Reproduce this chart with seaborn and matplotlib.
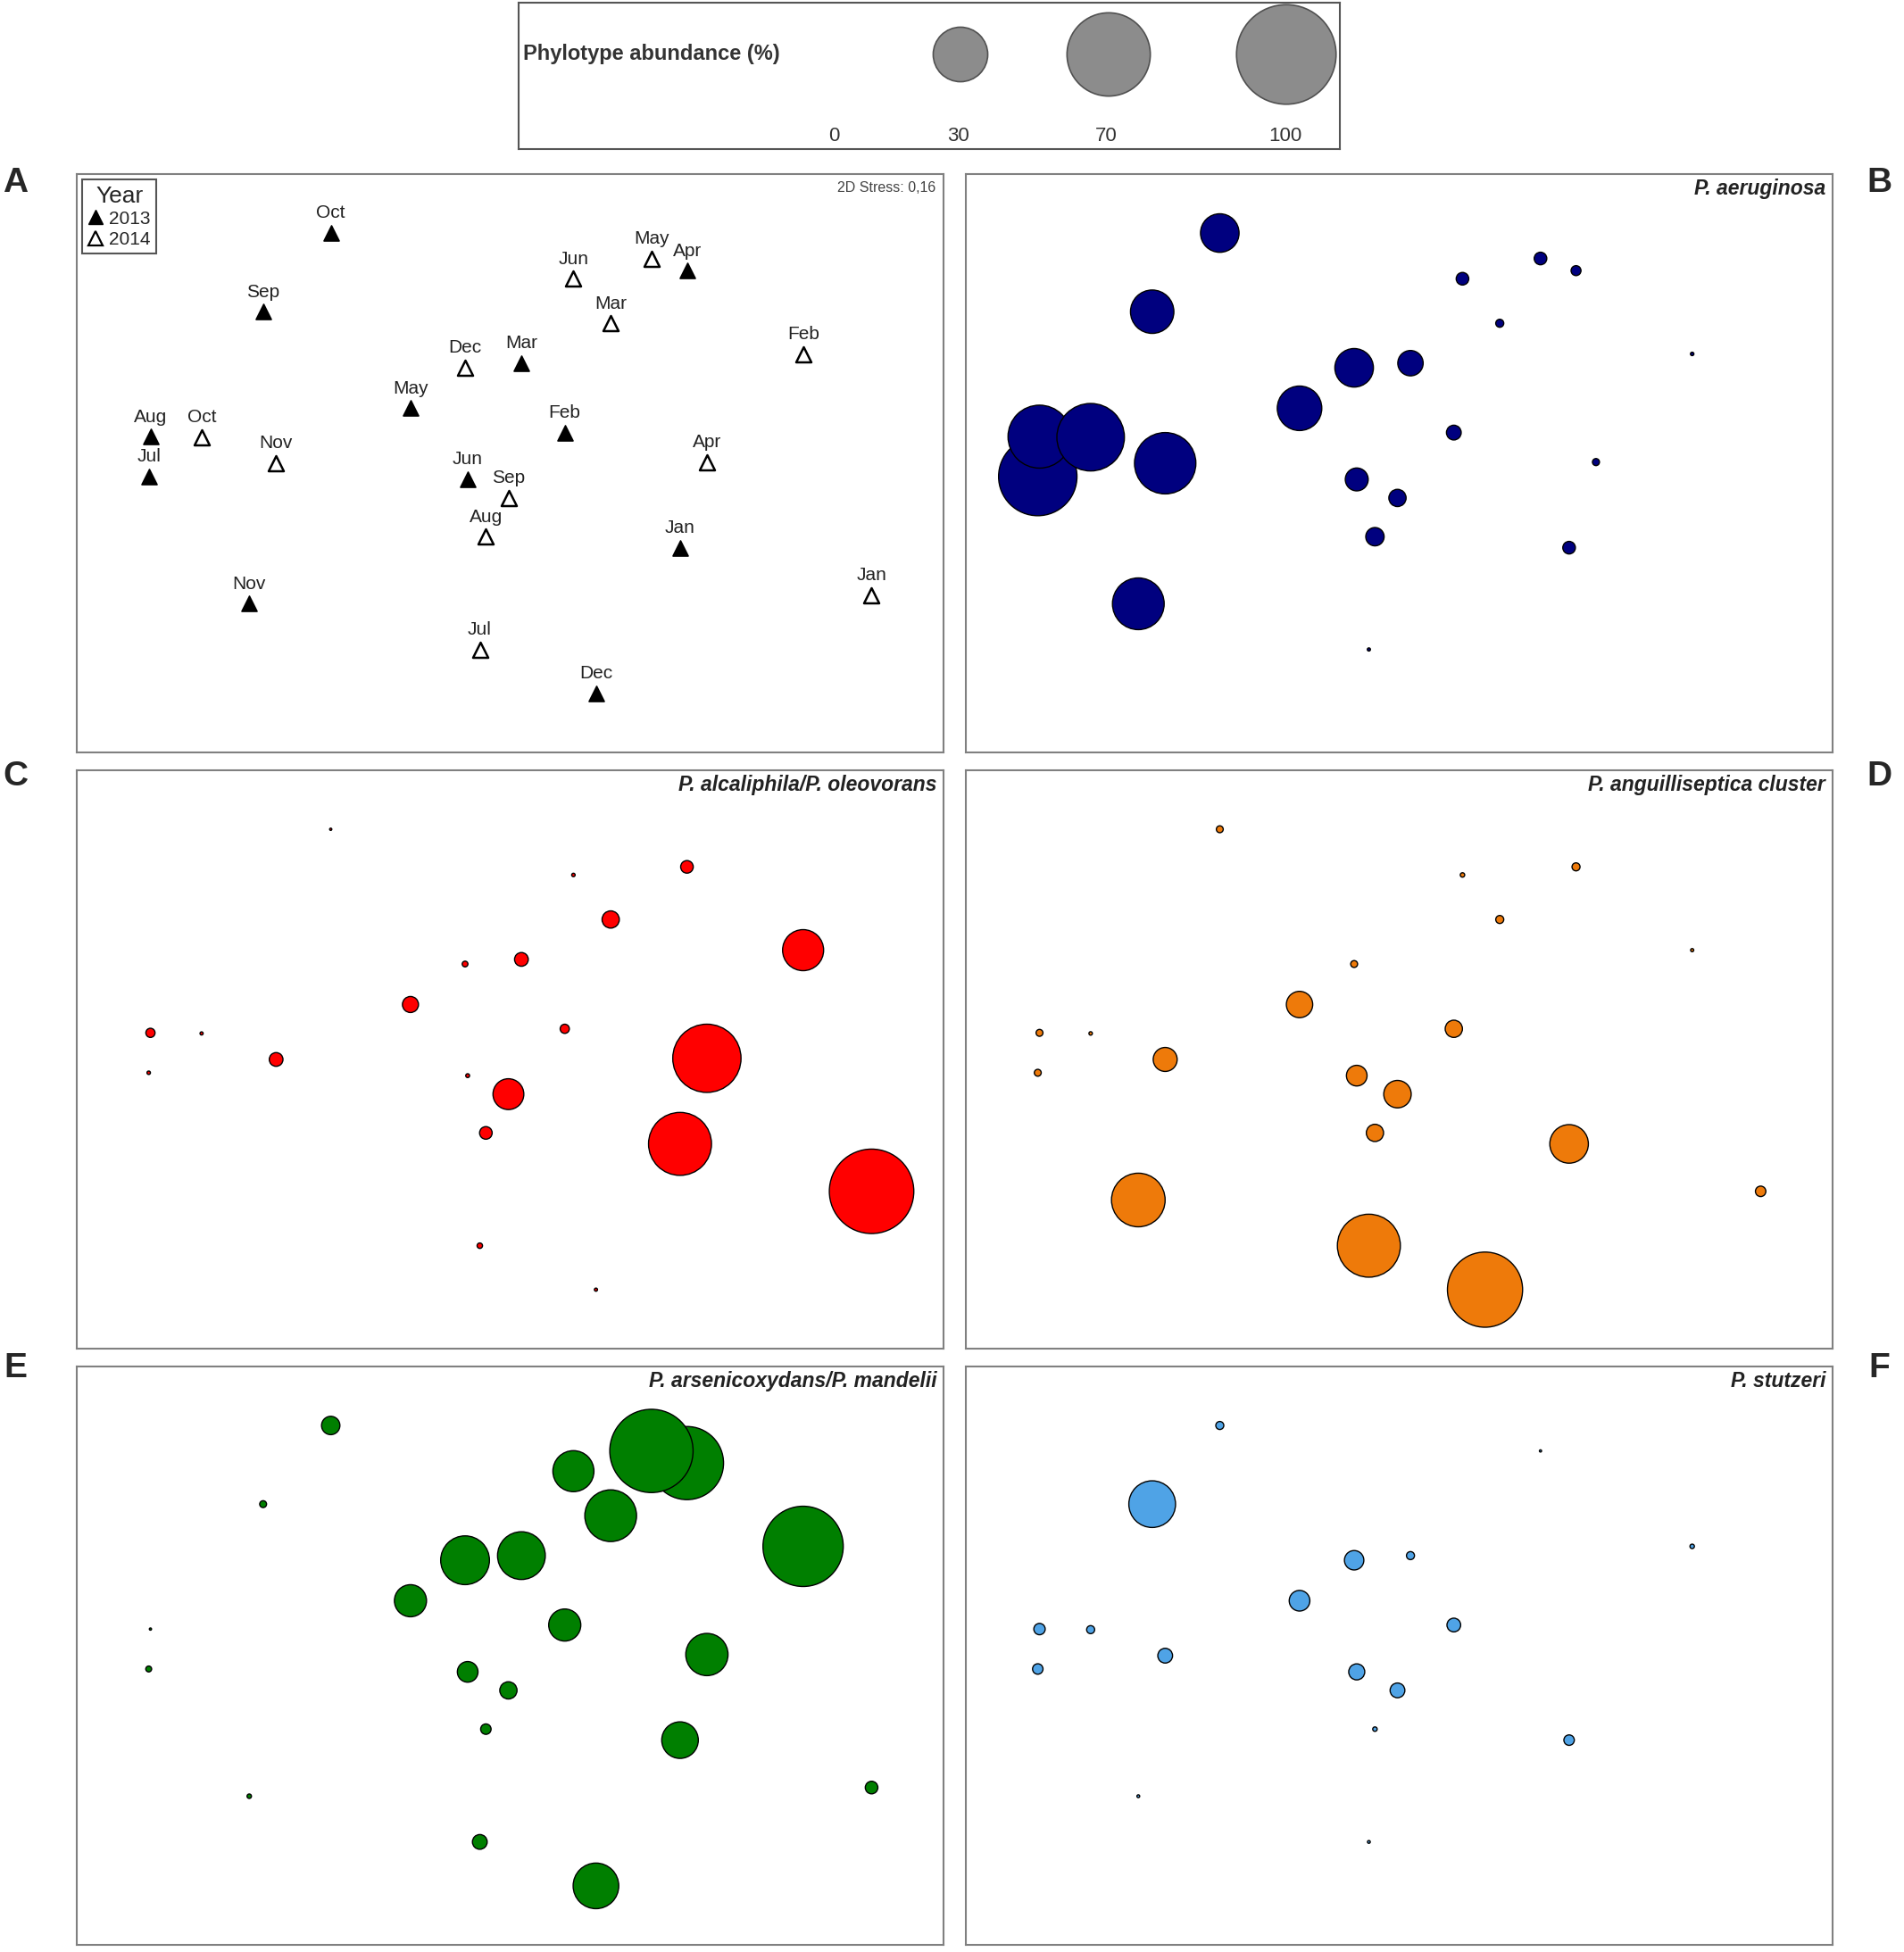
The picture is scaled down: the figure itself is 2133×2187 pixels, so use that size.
import pandas as pd
import matplotlib.pyplot as plt
from matplotlib.lines import Line2D
import seaborn as sns

# ---------- Data ----------
months = ["Jan", "Feb", "Mar", "Apr", "May", "Jun",
          "Jul", "Aug", "Sep", "Oct", "Nov", "Dec"] * 2
years = [2013] * 12 + [2014] * 12

# NMDS ordination (scaled 0-100)
nmds1 = [69.6, 56.3, 51.3, 70.4, 38.5, 45.1, 8.3, 8.5, 21.5, 29.3, 19.9, 59.9,
         91.7, 83.8, 61.6, 72.7, 66.3, 57.3, 46.5, 47.2, 49.8, 14.4, 23.0, 44.8]
nmds2 = [35.4, 55.3, 67.3, 83.3, 59.5, 47.2, 47.7, 54.6, 76.2, 89.8, 25.7, 10.2,
         27.2, 68.9, 74.2, 50.2, 85.4, 81.9, 17.8, 37.3, 44.0, 54.5, 50.0, 66.5]

# phylotype abundance (%) per sample
aeruginosa = [1.6, 2.2, 6.5, 1.0, 20, 5.3, 62, 40, 19, 15, 27, 0,
              0, 0.12, 0.65, 0.5, 1.6, 1.6, 0.1, 3.4, 3.0, 46, 38, 15]
alcaliphila = [40, 0.85, 1.9, 1.6, 2.6, 0.15, 0.12, 0.85, 0, 0.05, 0, 0.1,
               72, 17, 3.0, 47, 0, 0.12, 0.3, 1.6, 9.6, 0.1, 1.9, 0.33]
anguilliseptica = [15, 3.0, 0, 0.65, 7.0, 4.3, 0.48, 0.48, 0, 0.48, 29, 57,
                   1.1, 0.1, 0.65, 0, 0, 0.2, 40, 3.0, 7.6, 0.12, 5.8, 0.48]
arsenicoxydans = [13.5, 10.4, 23, 54, 10.4, 4.3, 0.35, 0.05, 0.48, 3.4, 0.2, 21,
                  1.6, 65, 27, 18, 70, 17, 2.2, 1.1, 3.0, 0, 0, 24]
stutzeri = [1.1, 1.9, 0.65, 0, 4.3, 2.6, 1.1, 1.3, 22, 0.65, 0.08, 0,
            0, 0.2, 0, 0, 0.05, 0, 0.08, 0.2, 2.2, 0.65, 2.2, 3.8]

legend_levels = [0, 30, 70, 100]

df = pd.DataFrame({"month": months, "year": years, "x": nmds1, "y": nmds2})

panels = [
    ("B", "P. aeruginosa", aeruginosa, "#00007F"),
    ("C", "P. alcaliphila/P. oleovorans", alcaliphila, "#FF0000"),
    ("D", "P. anguilliseptica cluster", anguilliseptica, "#EE7A0A"),
    ("E", "P. arsenicoxydans/P. mandelii", arsenicoxydans, "#007F00"),
    ("F", "P. stutzeri", stutzeri, "#4FA3E6"),
]

# ---------- Style ----------
sns.set_style("white")
plt.rcParams["font.family"] = ["Liberation Sans", "DejaVu Sans"]

W, H = 2133, 2187
fig = plt.figure(figsize=(W / 100, H / 100), dpi=100)

size_range = (0, 6450)
size_norm = (0, 100)

cols = [86, 1082]
rows = [195, 863, 1531]
pw, ph = 971, 648


def make_ax(col, row):
    x0 = cols[col]
    y0 = rows[row]
    ax = fig.add_axes([x0 / W, 1 - (y0 + ph) / H, pw / W, ph / H])
    ax.set_xlim(0, 100)
    ax.set_ylim(0, 100)
    ax.set_xticks([])
    ax.set_yticks([])
    for sp in ax.spines.values():
        sp.set_color("#808080")
        sp.set_linewidth(1.5)
    return ax


# ===============================
# A. NMDS of samples
# ===============================
axA = make_ax(0, 0)
d13 = df[df["year"] == 2013]
d14 = df[df["year"] == 2014]
sns.scatterplot(data=d13, x="x", y="y", marker="^", s=150, color="black",
                edgecolor="black", linewidth=1.2, ax=axA, legend=False)
sns.scatterplot(data=d14, x="x", y="y", marker="^", s=150, color="white",
                edgecolor="black", linewidth=1.8, ax=axA, legend=False)
for _, r in df.iterrows():
    axA.annotate(r["month"], (r["x"], r["y"]), xytext=(0, 12),
                 textcoords="offset points", ha="center", va="baseline",
                 fontsize=15, color="#222222")
axA.set(xlabel="", ylabel="")
axA.text(0.991, 0.976, "2D Stress: 0,16", transform=axA.transAxes,
         ha="right", va="center", fontsize=11.5, color="#444444")
handles = [
    Line2D([], [], marker="^", ls="", color="black", markersize=11),
    Line2D([], [], marker="^", ls="", markerfacecolor="white",
           markeredgecolor="black", markeredgewidth=1.6, markersize=11),
]
leg = axA.legend(handles, ["2013", "2014"], title="Year", loc="upper left",
                 fontsize=15, title_fontsize=19, frameon=True, fancybox=False,
                 edgecolor="#555555", framealpha=1, borderpad=0.3,
                 handlelength=0.8, handletextpad=0.35, labelspacing=0.2,
                 borderaxespad=0.3)
leg.get_frame().set_linewidth(1.5)
fig.text(17 / W, 1 - 205 / H, "A", fontsize=28, fontweight="bold",
         ha="center", va="center")

# ===============================
# B-F. Phylotype bubbles
# ===============================
positions = [(1, 0), (0, 1), (1, 1), (0, 2), (1, 2)]
letter_y = [205, 870, 1533]
for (letter, name, vals, colour), (c, r) in zip(panels, positions):
    ax = make_ax(c, r)
    sub = df.assign(abund=vals)
    sub = sub[sub["abund"] > 0]
    sns.scatterplot(data=sub, x="x", y="y", size="abund", sizes=size_range,
                    size_norm=size_norm, color=colour, edgecolor="black",
                    linewidth=1.0, ax=ax, legend=False)
    ax.set(xlabel="", ylabel="")
    ax.set_xlim(0, 100)
    ax.set_ylim(0, 100)
    ax.text(0.992, 0.975, name, transform=ax.transAxes, ha="right",
            va="center", fontsize=16.5, fontweight="bold", style="italic",
            color="#222222")
    lx = 17 if c == 0 else 2105
    fig.text(lx / W, 1 - letter_y[r] / H, letter, fontsize=28,
             fontweight="bold", ha="center", va="center")

# ===============================
# Size legend
# ===============================
axL = fig.add_axes([581 / W, 1 - 167 / H, 920 / W, 164 / H])
axL.set_xlim(581, 1501)
axL.set_ylim(167, 3)
axL.set_xticks([])
axL.set_yticks([])
for sp in axL.spines.values():
    sp.set_color("#555555")
    sp.set_linewidth(1.5)
leg_df = pd.DataFrame({"x": [934, 1076, 1242, 1441],
                       "y": [61] * 4, "abund": legend_levels})
sns.scatterplot(data=leg_df[leg_df["abund"] > 0], x="x", y="y", size="abund",
                sizes=size_range, size_norm=size_norm, color="#8C8C8C",
                edgecolor="#505050", linewidth=1.2, ax=axL, legend=False)
axL.set(xlabel="", ylabel="")
label_x = [934, 1073, 1239, 1440]
for lx, lv in zip(label_x, legend_levels):
    axL.text(lx, 153, str(lv), ha="center", va="center", fontsize=16,
             color="#333333")
axL.text(586, 61, "Phylotype abundance (%)", ha="left", va="center",
         fontsize=17, fontweight="bold", color="#333333")

fig.savefig("out.png", dpi=100)
